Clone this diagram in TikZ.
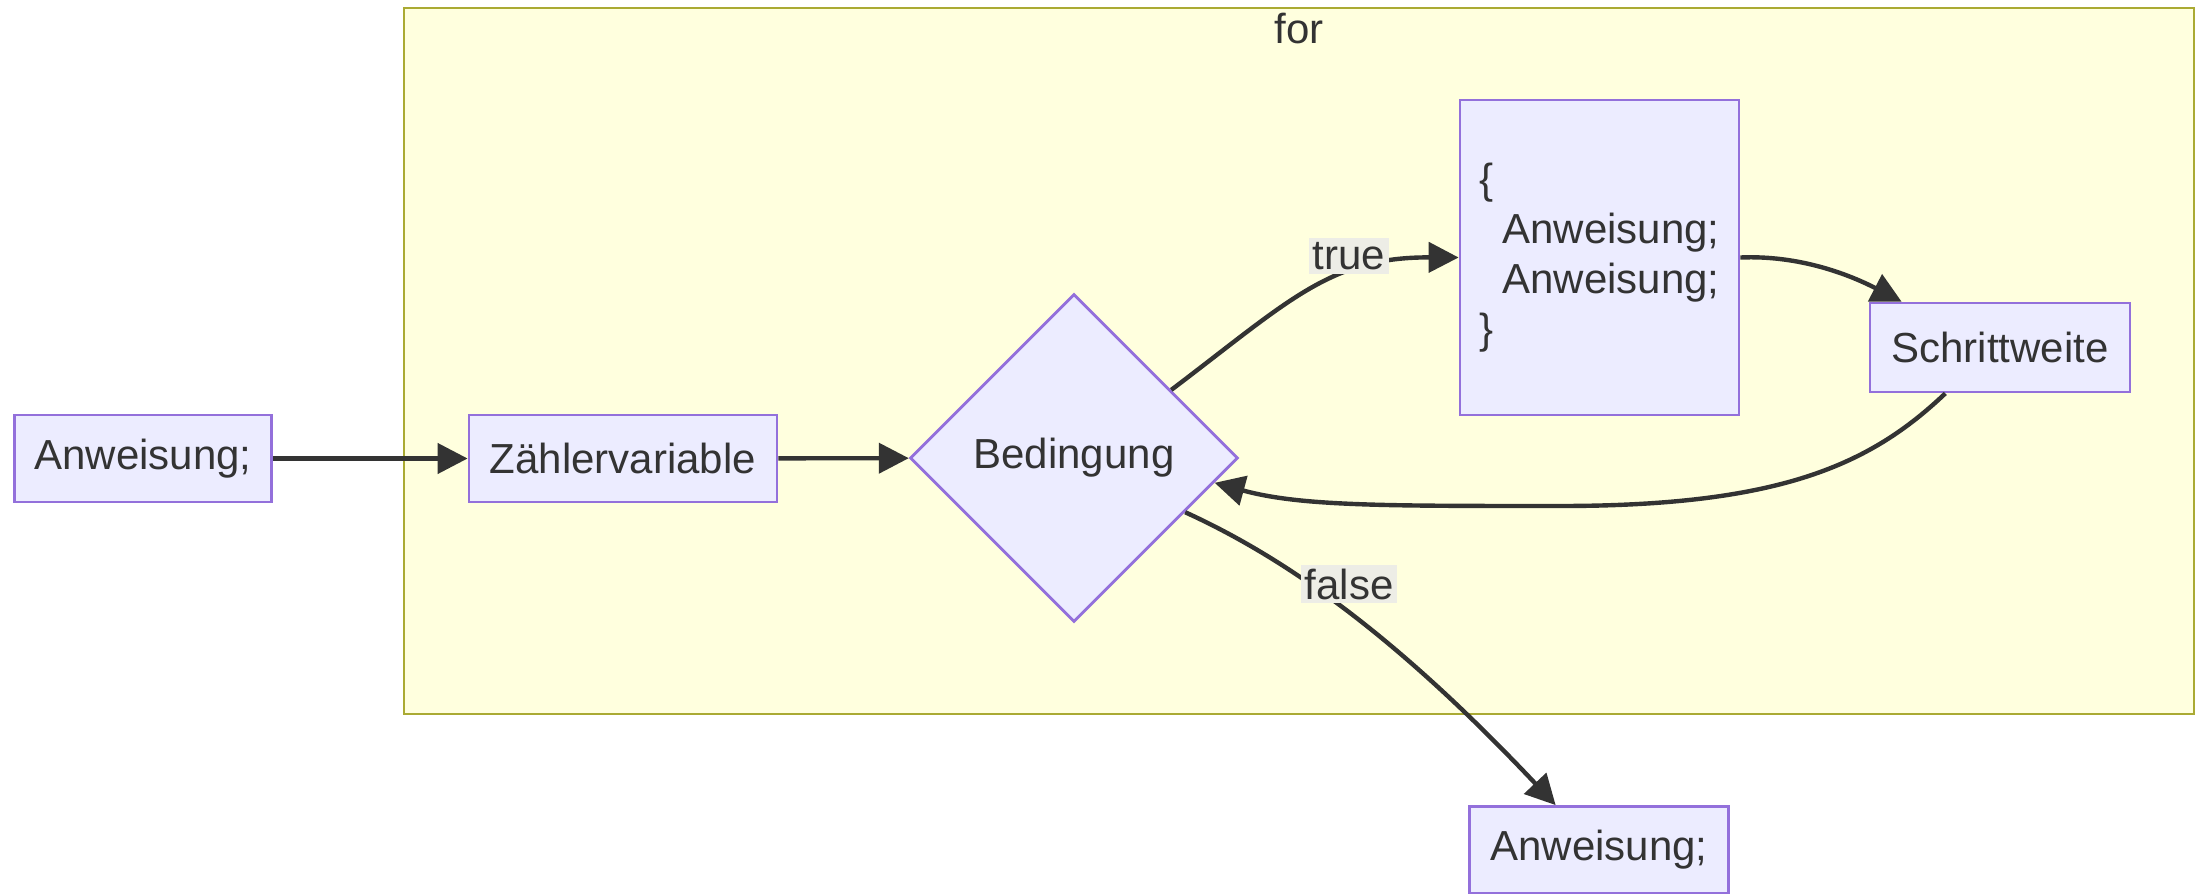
\documentclass[tikz,border=0pt]{standalone}
\usepackage{fontspec}
\setmainfont{Liberation Sans}
\usetikzlibrary{shapes.geometric,arrows.meta}
\definecolor{nodefill}{HTML}{ECECFF}
\definecolor{nodeline}{HTML}{9370DB}
\definecolor{clusterfill}{HTML}{FFFFDE}
\definecolor{clusterline}{HTML}{AAAA33}
\definecolor{edgecol}{HTML}{333333}
\definecolor{labelfill}{HTML}{EDEDE6}
\tikzset{box/.style={draw=nodeline, fill=nodefill, line width=1.4pt,
        minimum height=43.5pt, inner sep=0pt},
    decision/.style={diamond, draw=nodeline, fill=nodefill, line width=1.4pt,
        minimum width=164pt, minimum height=164pt, inner sep=0pt},
    flow/.style={draw=edgecol, line width=2.2pt, -{Triangle[length=15pt,width=15pt]}},
    edgelabel/.style={fill=labelfill, inner sep=2pt}
}

\begin{document}
\begin{tikzpicture}[x=0.5pt, y=0.5pt, font=\fontsize{21}{25}\selectfont, text=edgecol]
      \useasboundingbox (0,0) rectangle (2203,-893);
      \draw[draw=clusterline, fill=clusterfill, line width=1.4pt] (404,-8) rectangle (2194,-714);
      \node (fortitle) at (1299,-29) {for};

      \node[box, minimum width=128.5pt] (A1) at (143,-458.5) {Anweisung;};
      \node[box, minimum width=154pt] (ZV) at (623,-458.5) {Zählervariable};
      \node[decision] (BED) at (1074,-458) {Bedingung};
      \node[box, align=left, minimum width=139.5pt, minimum height=157.5pt] (BODY) at (1599.5,-257.5)
        {\{\\\hspace*{11.5pt}Anweisung;\\\hspace*{11.5pt}Anweisung;\\\}};
      \node[box, minimum width=130pt, minimum height=44.5pt] (SW) at (2000,-347.5) {Schrittweite};
      \node[box, minimum width=129.5pt] (A2) at (1599,-850) {Anweisung;};

      \draw[flow] (A1) -- (ZV);
      \draw[flow] (ZV) -- (BED);
      \draw[flow] (BED.35) .. controls (1290,-300) and (1330,-257) .. (BODY.west);
      \draw[flow] (BODY.east) .. controls (1800,-255) and (1850,-275) .. (SW.155);
      \draw[flow] (SW.220) .. controls (1870,-465) and (1780,-506) .. (1560,-506)
        .. controls (1380,-506) and (1300,-506) .. (BED.-10);
      \draw[flow] (BED.-26) .. controls (1290,-560) and (1400,-640) .. (A2.134);

      \node[edgelabel] (TRUE) at (1349,-256) {true};
      \node[edgelabel] (FALSE) at (1349,-584) {false};
\end{tikzpicture}
\end{document}
